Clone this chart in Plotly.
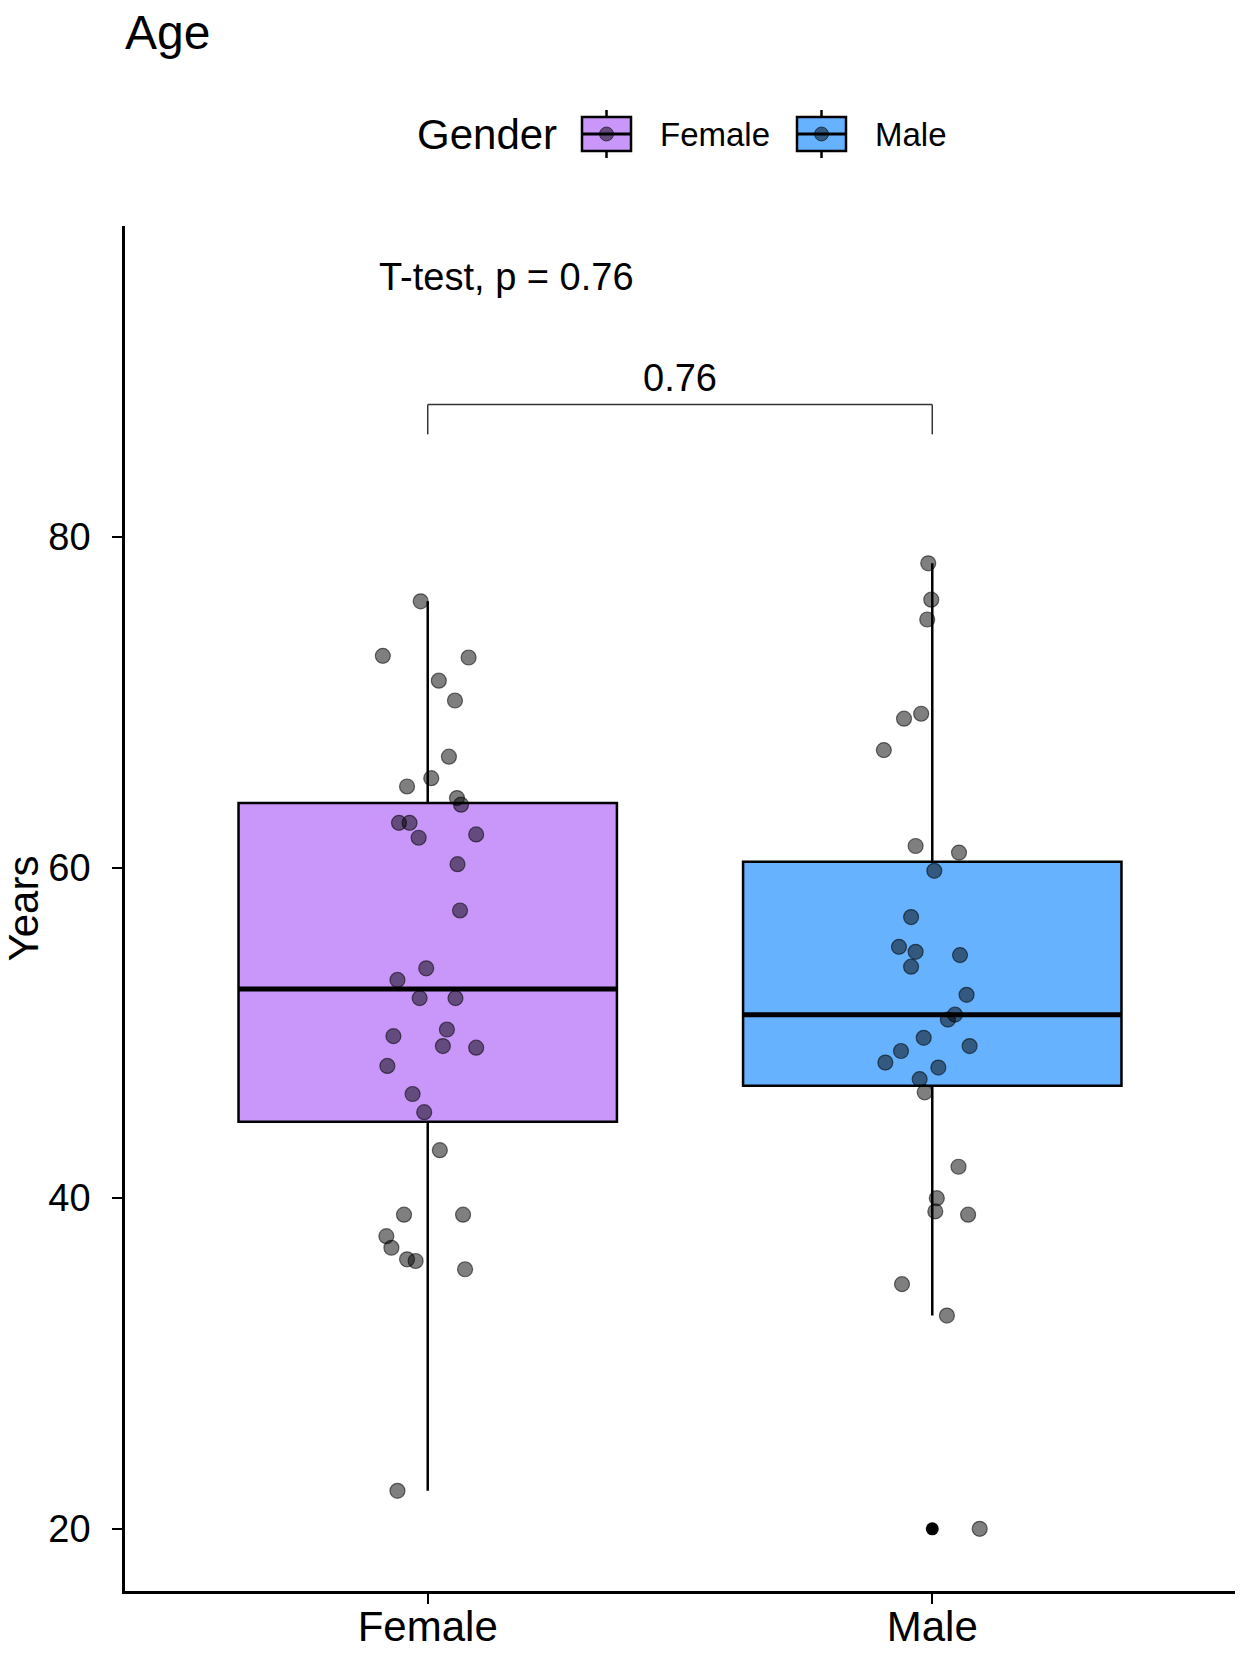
import numpy as np
import plotly.graph_objects as go

# Datos
categories = ["Female", "Male"]
female_age = [76.1, 72.8, 72.7, 71.3, 70.1, 66.7, 65.4, 64.9, 64.2, 63.8, 62.7, 62.7,
              61.8, 62.0, 60.2, 57.4, 53.9, 53.2, 52.1, 52.1, 50.2, 49.8, 49.2, 49.1,
              48.0, 46.3, 45.2, 42.9, 39.0, 39.0, 37.7, 37.0, 36.3, 36.2, 35.7, 22.3]
female_jitter = [-0.014, -0.089, 0.081, 0.022, 0.054, 0.042, 0.007, -0.041, 0.058, 0.066,
                 -0.057, -0.036, -0.018, 0.096, 0.059, 0.064, -0.003, -0.060, -0.016, 0.055,
                 0.038, -0.068, 0.030, 0.096, -0.080, -0.030, -0.007, 0.024, -0.047, 0.070,
                 -0.082, -0.072, -0.041, -0.024, 0.074, -0.060]
male_age = [78.4, 76.2, 75.0, 69.3, 69.0, 67.1, 61.3, 60.9, 59.8, 57.0, 55.2, 54.9,
            54.7, 54.0, 52.3, 51.1, 50.8, 49.7, 49.2, 48.9, 48.2, 47.9, 47.2, 46.4,
            41.9, 40.0, 39.2, 39.0, 34.8, 32.9, 20.0]
male_jitter = [-0.008, -0.002, -0.010, -0.022, -0.056, -0.096, -0.033, 0.053, 0.004, -0.042,
               -0.066, -0.033, 0.055, -0.042, 0.068, 0.045, 0.031, -0.017, 0.074, -0.062,
               -0.093, 0.012, -0.025, -0.015, 0.052, 0.009, 0.006, 0.071, -0.060, 0.029,
               0.094]
y_ticks = [20, 40, 60, 80]
p_value = "0.76"

colors = ["#C996FA", "#66B2FF"]
FONT = "Liberation Sans, Arial, sans-serif"
BOX_W = 0.75

W, H = 1247, 1662
ML, MR, MT, MB = 125, 12, 226, 71


# pixeles -> coordenadas paper (para la leyenda dibujada a mano)
def px(x):
    return (x - ML) / (W - ML - MR)


def py(y):
    return 1 - (y - MT) / (H - MT - MB)


# estadísticos del boxplot al estilo ggplot (cuantiles tipo 7)
def box_stats(values):
    v = np.array(values)
    q1, med, q3 = np.percentile(v, [25, 50, 75])
    iqr = q3 - q1
    inside = v[(v >= q1 - 1.5 * iqr) & (v <= q3 + 1.5 * iqr)]
    outliers = v[(v < q1 - 1.5 * iqr) | (v > q3 + 1.5 * iqr)]
    return q1, med, q3, inside.min(), inside.max(), outliers


fig = go.Figure()

groups = [(female_age, female_jitter), (male_age, male_jitter)]
for i, (ages, jit) in enumerate(groups):
    pos = i + 1
    q1, med, q3, lo, hi, out = box_stats(ages)
    fig.add_trace(go.Box(
        x=[pos], q1=[q1], median=[med], q3=[q3], lowerfence=[lo], upperfence=[hi],
        width=BOX_W, fillcolor=colors[i], line=dict(color="black", width=2.5),
        whiskerwidth=0, boxpoints=False, name=categories[i], showlegend=False,
        hoverinfo="skip",
    ))
    # mediana más gruesa
    fig.add_trace(go.Scatter(
        x=[pos - BOX_W / 2, pos + BOX_W / 2], y=[med, med], mode="lines",
        line=dict(color="black", width=5), showlegend=False, hoverinfo="skip",
    ))
    # outliers del boxplot
    if len(out):
        fig.add_trace(go.Scatter(
            x=[pos] * len(out), y=list(out), mode="markers",
            marker=dict(color="black", size=13), showlegend=False,
        ))

# puntos con jitter
for i, (ages, jit) in enumerate(groups):
    fig.add_trace(go.Scatter(
        x=[i + 1 + j for j in jit], y=ages, mode="markers",
        marker=dict(color="rgba(0,0,0,0.5)", size=15,
                    line=dict(color="rgba(0,0,0,0.55)", width=1.2)),
        showlegend=False,
    ))

# corchete de comparación
br_lo, br_hi = 86.2, 88.0
for xs, ys in [([1, 1], [br_lo, br_hi]), ([1, 2], [br_hi, br_hi]), ([2, 2], [br_hi, br_lo])]:
    fig.add_shape(type="line", x0=xs[0], x1=xs[1], y0=ys[0], y1=ys[1],
                  line=dict(color="#333333", width=1.5))
fig.add_annotation(x=1.5, y=89.6, text=p_value, showarrow=False,
                   font=dict(size=38, color="black", family=FONT), yanchor="middle")
fig.add_annotation(x=0.9, y=95.7, text=f"T-test, p = {p_value}", showarrow=False,
                   xanchor="left", yanchor="middle",
                   font=dict(size=38, color="black", family=FONT))

# leyenda estilo ggplot (claves con caja, bigote y punto)
leg_y = 134
fig.add_annotation(x=px(415), y=py(leg_y), xref="paper", yref="paper", text="Gender",
                   showarrow=False, xanchor="left", yanchor="middle",
                   font=dict(size=42, color="black", family=FONT))
for name, col, kx, tx in [(categories[0], colors[0], 582, 658),
                          (categories[1], colors[1], 797, 873)]:
    cx = kx + 24.5
    fig.add_shape(type="line", xref="paper", yref="paper", x0=px(cx), x1=px(cx),
                  y0=py(110), y1=py(158), line=dict(color="black", width=2.5))
    fig.add_shape(type="rect", xref="paper", yref="paper", x0=px(kx), x1=px(kx + 49),
                  y0=py(117), y1=py(151), fillcolor=col, line=dict(color="black", width=2.5))
    fig.add_shape(type="line", xref="paper", yref="paper", x0=px(kx), x1=px(kx + 49),
                  y0=py(leg_y), y1=py(leg_y), line=dict(color="black", width=3))
    fig.add_shape(type="circle", xref="paper", yref="paper", x0=px(cx - 7), x1=px(cx + 7),
                  y0=py(leg_y - 7), y1=py(leg_y + 7), fillcolor="rgba(0,0,0,0.5)",
                  line=dict(color="rgba(0,0,0,0.55)", width=1))
    fig.add_annotation(x=px(tx), y=py(leg_y), xref="paper", yref="paper", text=name,
                       showarrow=False, xanchor="left", yanchor="middle",
                       font=dict(size=33, color="black", family=FONT))

fig.update_layout(
    width=W, height=H,
    margin=dict(l=ML, r=MR, t=MT, b=MB),
    paper_bgcolor="white", plot_bgcolor="white",
    font=dict(family=FONT, color="black"),
    showlegend=False,
    title=dict(text="Age", x=ML / W, xanchor="left", xref="container",
               y=1 - 32 / H, yanchor="middle", font=dict(size=48, color="black")),
    xaxis=dict(range=[0.4, 2.6], tickvals=[1, 2], ticktext=categories,
               showline=True, linecolor="black", linewidth=2.5,
               ticks="outside", ticklen=10, tickwidth=2, tickcolor="black",
               tickfont=dict(size=42, color="black"), ticklabelstandoff=-13,
               showgrid=False, zeroline=False, automargin=False),
    yaxis=dict(range=[16.24, 98.8], tickvals=y_ticks,
               showline=True, linecolor="black", linewidth=2.5,
               ticks="outside", ticklen=10, tickwidth=2, tickcolor="black",
               tickfont=dict(size=38, color="black"), ticklabelstandoff=14,
               title=dict(text="Years", font=dict(size=42, color="black"), standoff=6),
               showgrid=False, zeroline=False, automargin=False),
)

# quitar el margen del body para que la figura ocupe la ventana exacta
fig.write_html("out.html", post_script="document.body.style.margin='0';",
               config={"displayModeBar": False})
